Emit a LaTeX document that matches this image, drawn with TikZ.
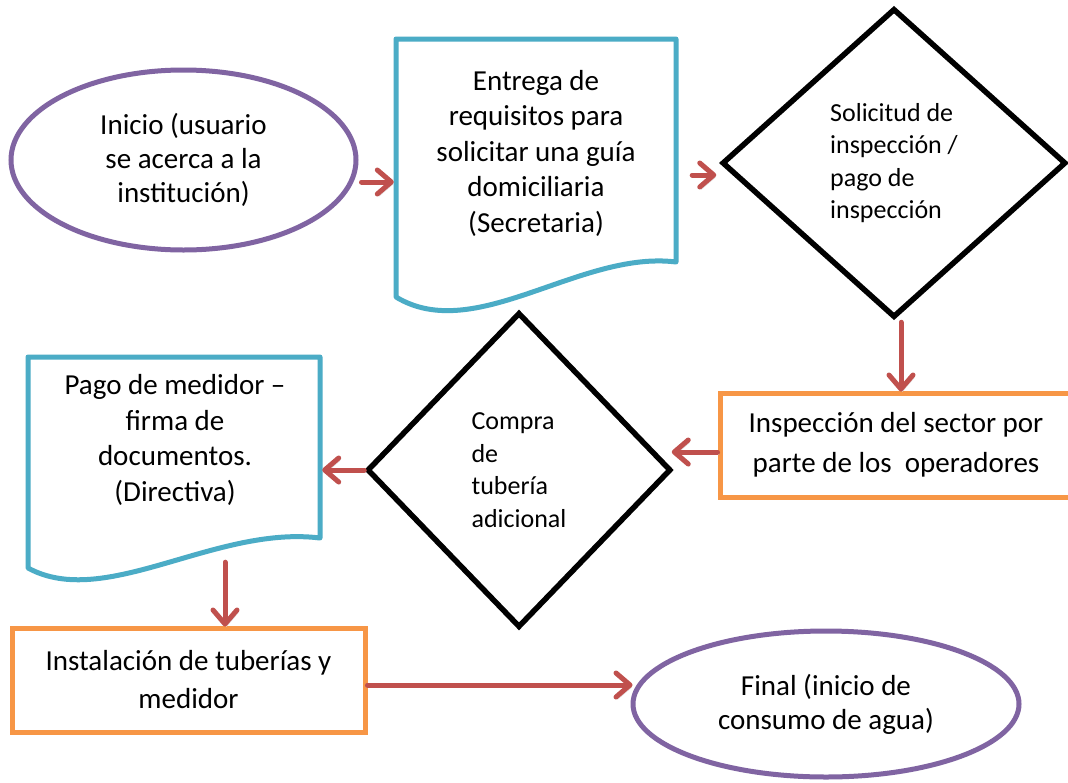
\documentclass[tikz,border=0pt]{standalone}
\usepackage{fontspec}
\setmainfont{Carlito}
\usetikzlibrary{shapes.geometric,arrows.meta,calc}
\definecolor{cpurple}{HTML}{8064A2}
\definecolor{cblue}{HTML}{4BACC6}
\definecolor{corange}{HTML}{F79646}
\definecolor{cred}{HTML}{C0504D}
\begin{document}
\begin{tikzpicture}[x=1pt,y=-1pt,
  term/.style={ellipse, draw=cpurple, line width=5pt, align=center, inner sep=0pt,
    font=\fontsize{29}{34}\selectfont},
  procbox/.style={rectangle, draw=corange, line width=5pt, align=center, inner sep=0pt},
  decis/.style={diamond, draw=black, line width=5.5pt, align=left, inner sep=0pt,
    font=\fontsize{26}{32.5}\selectfont},
  docarea/.style={rectangle, inner sep=0pt, draw=none},
  doctext/.style={align=center, inner sep=0pt, font=\fontsize{29}{35.5}\selectfont},
  docline/.style={draw=cblue, line width=5pt, line join=round},
  flow/.style={draw=cred, line width=5pt, line cap=round,
    -{Straight Barb[length=14pt,width=24pt,line cap=round,line join=round]},
    preaction={draw=black!15, transform canvas={shift={(1.5pt,-2.5pt)}}}}
]
\useasboundingbox (0,0) rectangle (1068,782);
\clip (0,0) rectangle (1068,782);
\fill[white] (0,0) rectangle (1068,782);

% terminals
\node[term, minimum width=345, minimum height=180] (ini) at (183.5,160)
  {Inicio (usuario\\se acerca a la\\institución)};
\node[term, minimum width=386, minimum height=146] (fin) at (826,704)
  {Final (inicio de\\consumo de agua)};

% document 1
\node[docarea, minimum width=280, minimum height=258] (doc1) at (536,168) {};
\draw[docline] (396,39) -- (676,39) -- (676,262)
  .. controls (580,250) and (475,345) .. (396,297) -- cycle;
\node[doctext] (doc1t) at (536,153)
  {Entrega de\\requisitos para\\solicitar una guía\\domiciliaria\\(Secretaria)};

% document 2
\node[docarea, minimum width=292, minimum height=211] (doc2) at (174,462.5) {};
\draw[docline] (28,357) -- (320,357) -- (320,538)
  .. controls (215,525) and (105,610) .. (28,568) -- cycle;
\node[doctext] (doc2t) at (175,440)
  {Pago de medidor –\\firma de\\documentos.\\(Directiva)};

% decisions
\node[decis, minimum width=344, minimum height=309] (dec1) at (894,163)
  {Solicitud de\\inspección /\\pago de\\inspección};
\node[decis, minimum width=304, minimum height=315] (dec2) at (519,470)
  {Compra\\de\\tubería\\adicional};

% process boxes
\node[procbox, minimum width=352, minimum height=104,
  font=\fontsize{29}{40}\selectfont] (insp) at (896,445)
  {Inspección del sector por\\parte de los\ \ operadores};
\node[procbox, minimum width=353, minimum height=104,
  font=\fontsize{29}{38}\selectfont] (inst) at (188.5,680)
  {Instalación de tuberías y\\medidor};

% connectors
\path ([shift={(3,22)}]ini.east) coordinate (a1s);
\draw[flow] (a1s) -- ([xshift=-2pt]a1s -| doc1.west);

\path ([shift={(16,7)}]doc1.east) coordinate (a2s);
\draw[flow] (a2s) -- ([xshift=-3pt]a2s -| dec1.west);

\path ([shift={(7,2)}]dec1.south) coordinate (a3s);
\draw[flow] (a3s) -- ([yshift=-1pt]a3s |- insp.north);

\path ([shift={(0,7)}]insp.west) coordinate (a4s);
\draw[flow] (a4s) -- ([xshift=-2pt]a4s -| dec2.east);

\path (dec2.west) coordinate (a5s);
\draw[flow] (a5s) -- ([xshift=2pt]a5s -| doc2.east);

\path ([shift={(51,-6)}]doc2.south) coordinate (a6s);
\draw[flow] (a6s) -- ([yshift=-1pt]a6s |- inst.north);

\path ([shift={(0,5)}]inst.east) coordinate (a7s);
\draw[flow] (a7s) -- ([xshift=2pt]a7s -| fin.west);
\end{tikzpicture}
\end{document}
